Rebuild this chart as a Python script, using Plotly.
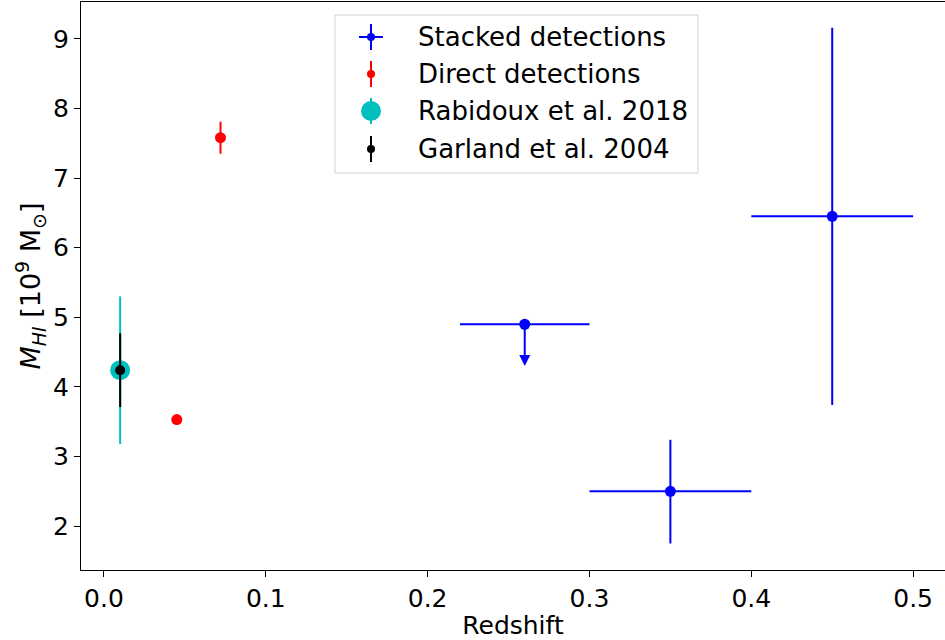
import plotly.graph_objects as go

# Stacked detections (redshift bins, HI mass in 1e9 Msun)
stack_z = [0.26, 0.35, 0.45]
stack_zerr = [0.04, 0.05, 0.05]
stack_m = [4.90, 2.50, 6.45]
stack_m_up = [0.0, 0.74, 2.71]
stack_m_down = [0.0, 0.75, 2.71]
stack_is_limit = [True, False, False]
stack_limit_tip = [4.30, None, None]

# Direct detections
direct_z = [0.045, 0.072]
direct_m = [3.53, 7.58]
direct_merr = [0.05, 0.23]

# Rabidoux et al. 2018
rab_z = [0.01]
rab_m = [4.24]
rab_merr = [1.06]

# Garland et al. 2004
gar_z = [0.01]
gar_m = [4.24]
gar_merr = [0.53]

BLUE = "#0000ff"
RED = "#ff0000"
CYAN = "#00bfbf"
BLACK = "#000000"
FONT = "DejaVu Sans"

W, H = 945, 640
ML, MR, MT, MB = 81, 0, 2, 70

fig = go.Figure()

fig.add_trace(go.Scatter(
    x=stack_z, y=stack_m, mode="markers",
    marker=dict(color=BLUE, size=11),
    error_x=dict(type="data", array=stack_zerr, color=BLUE, thickness=2, width=0),
    error_y=dict(type="data", symmetric=False, array=stack_m_up,
                 arrayminus=stack_m_down, color=BLUE, thickness=2, width=0),
    showlegend=False,
))
fig.add_trace(go.Scatter(
    x=direct_z, y=direct_m, mode="markers",
    marker=dict(color=RED, size=11),
    error_y=dict(type="data", array=direct_merr, color=RED, thickness=2, width=0),
    showlegend=False,
))
fig.add_trace(go.Scatter(
    x=rab_z, y=rab_m, mode="markers",
    marker=dict(color=CYAN, size=20),
    error_y=dict(type="data", array=rab_merr, color=CYAN, thickness=2, width=0),
    showlegend=False,
))
fig.add_trace(go.Scatter(
    x=gar_z, y=gar_m, mode="markers",
    marker=dict(color=BLACK, size=10),
    error_y=dict(type="data", array=gar_merr, color=BLACK, thickness=2, width=0),
    showlegend=False,
))

# Upper-limit arrows for the stacked bins
annotations = []
for z, m, lim, tip in zip(stack_z, stack_m, stack_is_limit, stack_limit_tip):
    if lim:
        annotations.append(dict(
            x=z, y=tip, ax=z, ay=m, xref="x", yref="y", axref="x", ayref="y",
            showarrow=True, arrowhead=2, arrowsize=1.1, arrowwidth=2,
            arrowcolor=BLUE, text="",
        ))

# Legend drawn by hand so the entries show their error-bar glyphs
pw, ph = W - ML - MR, H - MT - MB


def px(X):
    return (X - ML) / pw


def py(Y):
    return (H - MB - Y) / ph


shapes = [dict(type="rect", xref="paper", yref="paper",
               x0=px(335), x1=px(698), y0=py(173), y1=py(15),
               line=dict(color="#d0d0d0", width=1), fillcolor="rgba(255,255,255,0.85)",
               layer="above")]

legend_rows = [
    ("Stacked detections", BLUE, 37, 8, 13, 12),
    ("Direct detections", RED, 74, 8, 13, 0),
    ("Rabidoux et al. 2018", CYAN, 111, 20, 13, 0),
    ("Garland et al. 2004", BLACK, 149, 8, 13, 0),
]
gx = 371
for label, col, yy, dsize, vhalf, hhalf in legend_rows:
    shapes.append(dict(type="line", xref="paper", yref="paper",
                       x0=px(gx), x1=px(gx), y0=py(yy - vhalf), y1=py(yy + vhalf),
                       line=dict(color=col, width=2), layer="above"))
    if hhalf:
        shapes.append(dict(type="line", xref="paper", yref="paper",
                           x0=px(gx - hhalf), x1=px(gx + hhalf), y0=py(yy), y1=py(yy),
                           line=dict(color=col, width=2), layer="above"))
    r = dsize / 2
    shapes.append(dict(type="circle", xref="paper", yref="paper",
                       xsizemode="pixel", ysizemode="pixel",
                       xanchor=px(gx), yanchor=py(yy),
                       x0=-r, x1=r, y0=-r, y1=r,
                       fillcolor=col, line=dict(color=col, width=0), layer="above"))
    annotations.append(dict(
        x=px(416), y=py(yy), xref="paper", yref="paper",
        xanchor="left", yanchor="middle", showarrow=False, text=label,
        font=dict(family=FONT, size=26, color="#000000"),
    ))

axis_common = dict(
    showgrid=False, zeroline=False, showline=True, mirror=True,
    linecolor="#000000", linewidth=1.2, ticks="outside", ticklen=6,
    tickwidth=1.2, tickcolor="#000000",
    tickfont=dict(family=FONT, size=25, color="#000000"),
)

fig.update_layout(
    width=W, height=H,
    margin=dict(l=ML, r=MR, t=MT, b=MB),
    paper_bgcolor="#ffffff", plot_bgcolor="#ffffff",
    xaxis=dict(range=[-0.0142, 0.5197], tickvals=[0, 0.1, 0.2, 0.3, 0.4, 0.5],
               tickformat=".1f",
               title=dict(text="Redshift", standoff=4,
                          font=dict(family=FONT, size=25, color="#000000")),
               **axis_common),
    yaxis=dict(range=[1.369, 9.53], tickvals=[2, 3, 4, 5, 6, 7, 8, 9],
               title=dict(text="<i>M</i><sub><i>HI</i></sub> [10<sup>9</sup> M<sub>⊙</sub>]",
                          standoff=4,
                          font=dict(family=FONT, size=27, color="#000000")),
               **axis_common),
    shapes=shapes,
    annotations=annotations,
    showlegend=False,
)

fig.write_html("out.html")
